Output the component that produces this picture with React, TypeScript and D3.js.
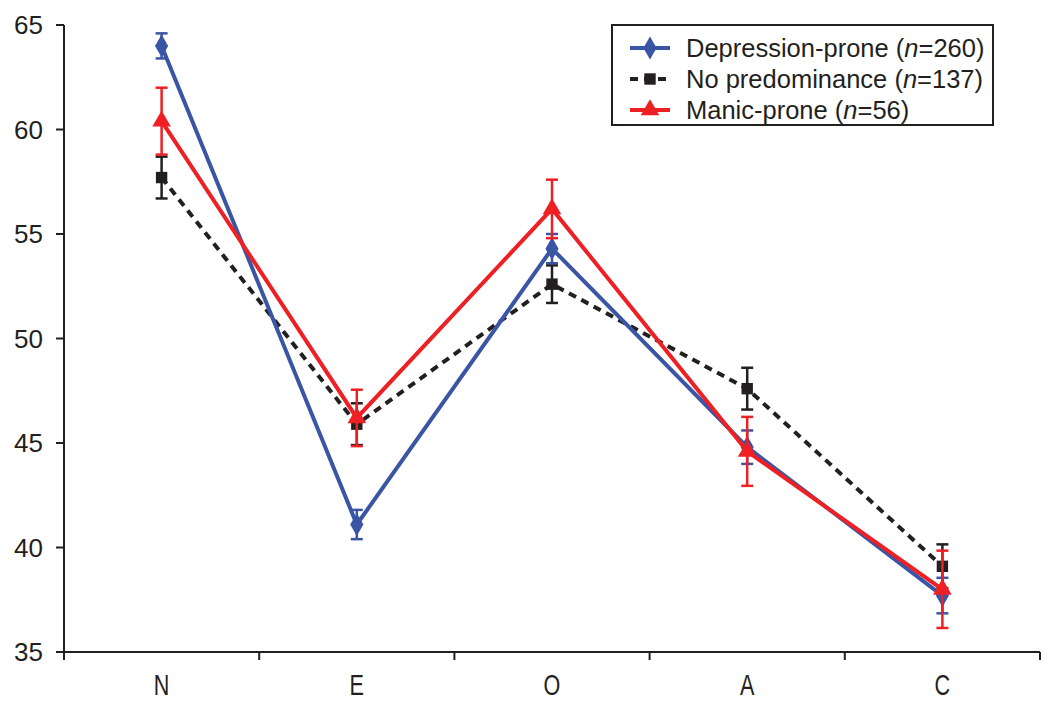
import React from "react";
import * as d3 from "d3";

const categories = ["N", "E", "O", "A", "C"];
const yTicks = [35, 40, 45, 50, 55, 60, 65];

const depressionMean = [64.0, 41.1, 54.3, 44.8, 37.7];
const depressionErr = [0.6, 0.7, 0.7, 0.8, 0.85];
const noPredMean = [57.7, 45.9, 52.6, 47.6, 39.1];
const noPredErr = [1.0, 1.0, 0.9, 1.0, 1.05];
const manicMean = [60.4, 46.2, 56.2, 44.6, 38.0];
const manicErr = [1.6, 1.35, 1.4, 1.65, 1.85];

const seriesNames = ["Depression-prone", "No predominance", "Manic-prone"];
const seriesN = ["260", "137", "56"];

const W = 1050, H = 709;
const left = 64, right = 1040, top = 25, bottom = 652;

export default function App() {
  const x = d3.scaleBand<string>().domain(categories).range([left, right]);
  const y = d3.scaleLinear().domain([35, 65]).range([bottom, top]);
  const cx = (c: string) => (x(c) as number) + x.bandwidth() / 2;

  const series = [
    { name: seriesNames[0], n: seriesN[0], mean: depressionMean, err: depressionErr, color: "#3a55a4", dash: null as string | null, marker: "diamond" },
    { name: seriesNames[1], n: seriesN[1], mean: noPredMean, err: noPredErr, color: "#231f20", dash: "8,6", marker: "square" },
    { name: seriesNames[2], n: seriesN[2], mean: manicMean, err: manicErr, color: "#ee2024", dash: null, marker: "triangle" },
  ];

  const line = d3.line<[number, number]>().x(d => d[0]).y(d => d[1]);

  const markerPath = (m: string) => {
    const t = m === "diamond" ? d3.symbolDiamond : m === "square" ? d3.symbolSquare : d3.symbolTriangle;
    const size = m === "diamond" ? 150 : m === "square" ? 130 : 150;
    return d3.symbol().type(t).size(size)() as string;
  };

  const xTickPositions = categories.map(c => x(c) as number).concat([right]);

  return (
    <svg width={W} height={H} style={{ display: "block", position: "absolute", left: 0, top: 0 }}
      fontFamily="'Liberation Sans', Arial, sans-serif">
      <rect width={W} height={H} fill="#fff" />
      {/* y axis */}
      <line x1={left} x2={left} y1={top} y2={bottom} stroke="#231f20" strokeWidth={2} />
      {yTicks.map(t => (
        <g key={t}>
          <line x1={left - 8} x2={left} y1={y(t)} y2={y(t)} stroke="#231f20" strokeWidth={2} />
          <text x={43} y={y(t)} dy="0.35em" textAnchor="end" fontSize={26} fill="#231f20">{t}</text>
        </g>
      ))}
      {/* x axis */}
      <line x1={left - 8} x2={right} y1={bottom} y2={bottom} stroke="#231f20" strokeWidth={2} />
      {xTickPositions.map((p, i) => (
        <line key={i} x1={p} x2={p} y1={bottom} y2={bottom + 8} stroke="#231f20" strokeWidth={2} />
      ))}
      {categories.map(c => (
        <text key={c} transform={`translate(${cx(c)},695) scale(0.72,1)`} textAnchor="middle" fontSize={30}
          fill="#231f20">{c}</text>
      ))}
      {/* series */}
      {[1, 0, 2].map(si => {
        const s = series[si];
        const pts = categories.map((c, i) => [cx(c), y(s.mean[i])] as [number, number]);
        return (
          <g key={s.name}>
            {categories.map((c, i) => {
              const hi = y(s.mean[i] + s.err[i]);
              const lo = y(s.mean[i] - s.err[i]);
              const xc = cx(c);
              return (
                <g key={c} stroke={s.color} strokeWidth={2.5}>
                  <line x1={xc} x2={xc} y1={hi} y2={lo} />
                  <line x1={xc - 6} x2={xc + 6} y1={hi} y2={hi} />
                  <line x1={xc - 6} x2={xc + 6} y1={lo} y2={lo} />
                </g>
              );
            })}
            <path d={line(pts) as string} fill="none" stroke={s.color} strokeWidth={4}
              strokeDasharray={s.dash ?? undefined} />
            {pts.map((p, i) => (
              <path key={i} d={markerPath(s.marker)} transform={`translate(${p[0]},${p[1]})`} fill={s.color} />
            ))}
          </g>
        );
      })}
      {/* legend */}
      <rect x={612} y={25} width={381} height={100} fill="#fff" stroke="#231f20" strokeWidth={2} />
      {series.map((s, i) => {
        const ly = 48 + i * 31;
        return (
          <g key={s.name}>
            <line x1={630} x2={670} y1={ly} y2={ly} stroke={s.color} strokeWidth={4}
              strokeDasharray={s.dash ?? undefined} />
            <path d={markerPath(s.marker)} transform={`translate(650,${ly})`} fill={s.color} />
            <text x={686} y={ly} dy="0.36em" fontSize={25.5} fill="#231f20">
              {s.name} (<tspan fontStyle="italic">n</tspan>={s.n})
            </text>
          </g>
        );
      })}
    </svg>
  );
}
